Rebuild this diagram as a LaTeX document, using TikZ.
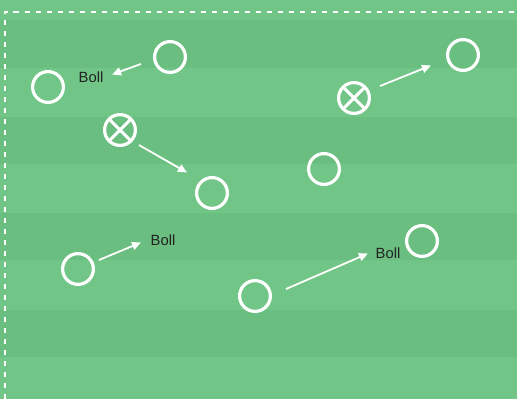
\documentclass[tikz,border=0pt]{standalone}
\usepackage{fontspec}
\setmainfont{Liberation Sans}
\usetikzlibrary{arrows.meta}
\definecolor{lightg}{HTML}{71C587}
\definecolor{darkg}{HTML}{6ABE80}
\definecolor{txt}{HTML}{222222}
\begin{document}
\begin{tikzpicture}[x=1pt,y=-1pt,
  player/.style={circle,draw=white,line width=3.2pt,minimum size=30.8pt,inner sep=0pt},
  xplayer/.style={player,path picture={
      \draw[white,line width=3pt] (path picture bounding box.north west) -- (path picture bounding box.south east)
        (path picture bounding box.north east) -- (path picture bounding box.south west);}},
  lbl/.style={text=txt,font=\fontsize{14.8}{17}\selectfont,inner sep=0pt},
  arr/.style={white,line width=1.8pt,-{Triangle[length=9pt,width=8pt]}},
  band/.style={fill=darkg}]
\useasboundingbox (0,0) rectangle (517,399);
\fill[lightg] (0,0) rectangle (517,399);
\foreach \a/\b in {20/68,117/164,213/260,310/357}
  \fill[band] (0,\a) rectangle (517,\b);
\draw[white,line width=2pt,dash pattern=on 5.5pt off 5.5pt] (4.5,399) -- (4.5,12) -- (517,12);

\node[player] (A) at (170,57) {};
\node[player] (B) at (48,87) {};
\node[xplayer] (C) at (120,130) {};
\node[player] (D) at (212,193) {};
\node[xplayer] (E) at (354,98) {};
\node[player] (F) at (463,55) {};
\node[player] (G) at (324,169) {};
\node[player] (H) at (78,269) {};
\node[player] (I) at (422,241) {};
\node[player] (J) at (255,296) {};

\node[lbl] (L1) at (91,77) {Boll};
\node[lbl] (L2) at (163,240) {Boll};
\node[lbl] (L3) at (388,253) {Boll};

\coordinate (a1s) at (141,64);  \coordinate (a1e) at (112,74.5);
\coordinate (a2s) at (139,145); \coordinate (a2e) at (187,172.5);
\coordinate (a3s) at (380,86);  \coordinate (a3e) at (431,65.5);
\coordinate (a4s) at (99,260);  \coordinate (a4e) at (141,242.5);
\coordinate (a5s) at (286,289); \coordinate (a5e) at (368,253.5);

\draw[arr] (a1s) -- (a1e);
\draw[arr] (a2s) -- (a2e);
\draw[arr] (a3s) -- (a3e);
\draw[arr] (a4s) -- (a4e);
\draw[arr] (a5s) -- (a5e);
\end{tikzpicture}
\end{document}
